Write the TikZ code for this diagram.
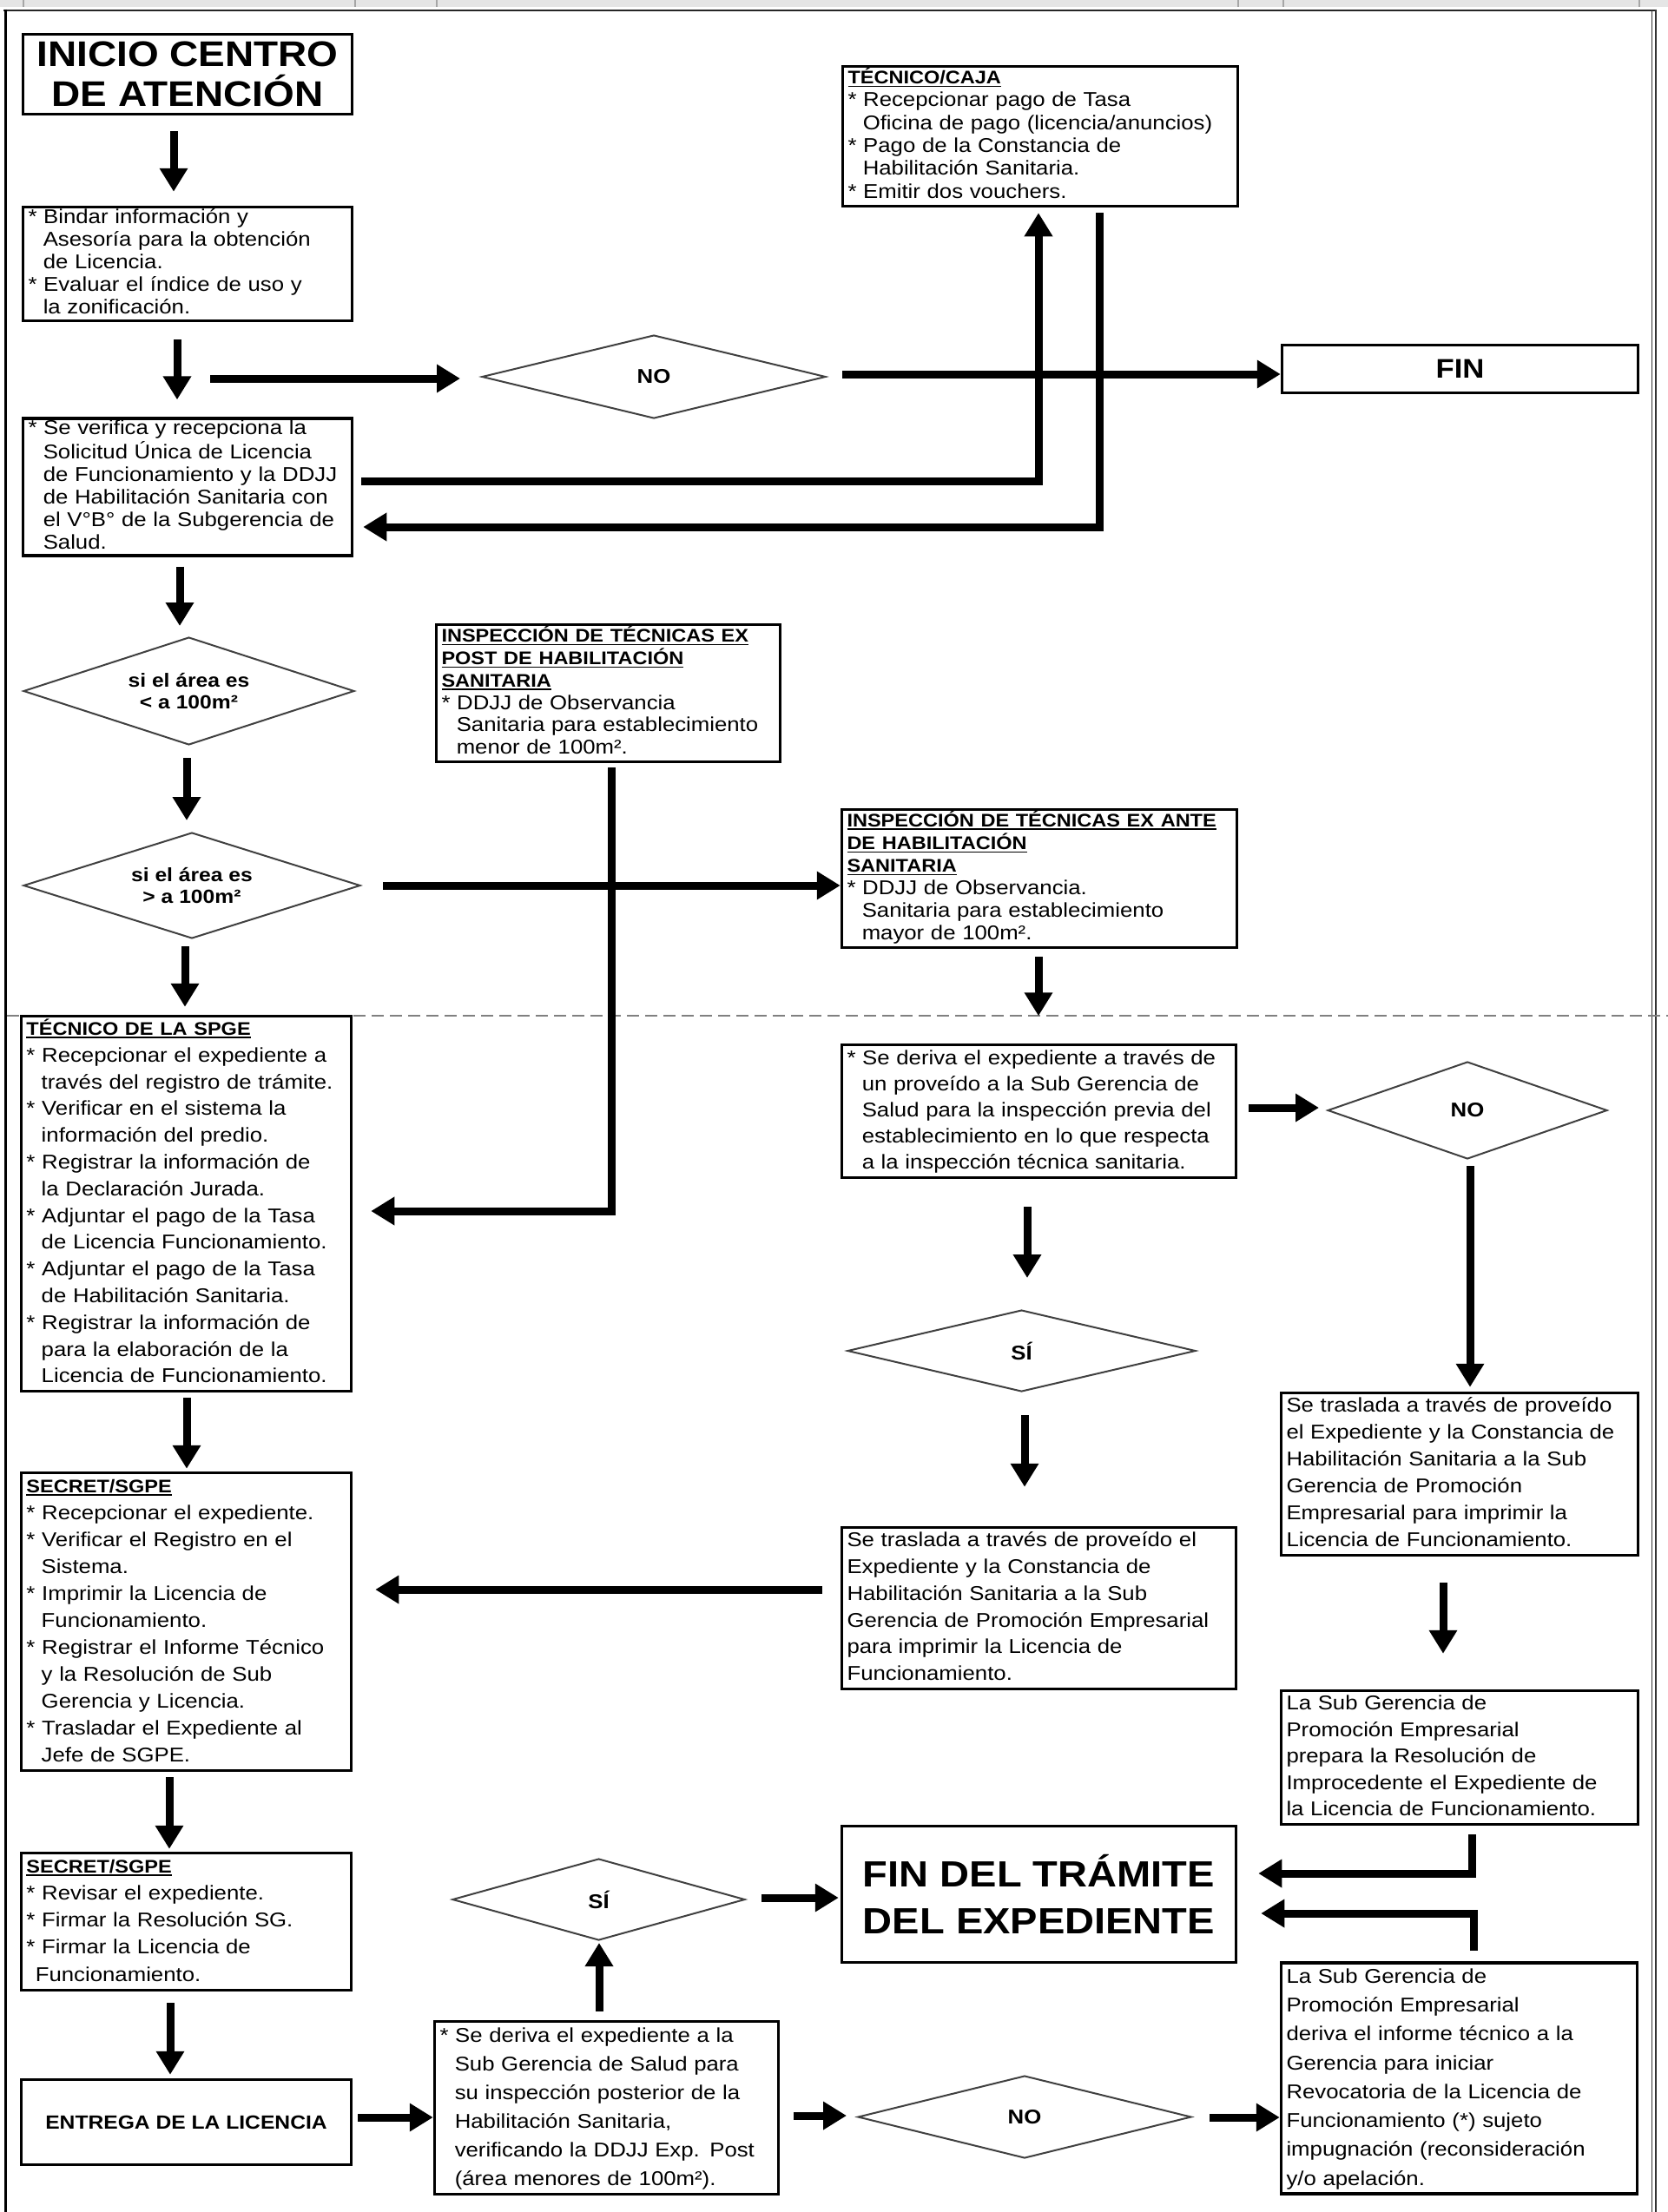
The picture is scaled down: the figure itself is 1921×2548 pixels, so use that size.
\documentclass[tikz,border=0pt]{standalone}
\usepackage{fontspec}
\setmainfont{Liberation Sans}[FakeStretch=1.12]
\usetikzlibrary{shapes.geometric,arrows.meta,calc}
\setlength{\parindent}{0pt}
\newsavebox\ulbox
\newcommand\myul[1]{\sbox\ulbox{#1}\rlap{\rule[-3.5pt]{\wd\ulbox}{1.6pt}}\usebox\ulbox}
\newcommand\mytitle[1]{\myul{\bfseries\fontsize{21}{26}\selectfont #1}}
\newcommand\myind{\hspace*{0.75em}}
\begin{document}
\begin{tikzpicture}[x=1pt,y=-1pt,
  box/.style={draw=black, line width=3.5pt, fill=white, inner xsep=6pt, inner ysep=0pt, align=left},
  dec/.style={diamond, shape aspect=3, draw=black!75, line width=2pt, fill=white, inner sep=0pt, align=center, font=\bfseries\fontsize{22}{25}\selectfont},
  arr/.style={line width=9pt, -{Triangle[length=27pt,width=31pt]}}
]
\useasboundingbox (0,0) rectangle (1921,2548);
% frame
\fill[black!10] (0,0) rectangle (1921,8);
\foreach \t in {27,409,503,1426,1478,1888} \draw[black!35,line width=1.5pt] (\t,0) -- (\t,8);
\draw[black!85,line width=2pt] (4,12) -- (1908,12);
\draw[line width=3pt] (6.5,11) -- (6.5,2548);
\draw[black!80,line width=1.4pt] (1902.5,11) -- (1902.5,2548);
\draw[black!80,line width=1.4pt] (1907,11) -- (1907,2548);
\draw[black!50,line width=2pt,dash pattern=on 14pt off 7pt] (8,1170) -- (1921,1170);

% left column
\node[box, minimum width=379pt, minimum height=92pt, align=center, font=\bfseries\fontsize{41}{46}\selectfont] (inicio) at (216,85.5) {INICIO CENTRO\\DE ATENCIÓN};

\node[box, minimum width=379pt, minimum height=131pt, text width=367pt, font=\fontsize{23}{26}\selectfont] (b2) at (216,304) {\begin{tabular}{@{}l@{}}{*} Bindar información y\\ \myind Asesoría para la obtención\\ \myind de Licencia.\\ {*} Evaluar el índice de uso y\\ \myind la zonificación.\end{tabular}};

\node[box, minimum width=379pt, minimum height=157pt, text width=367pt, font=\fontsize{23}{26}\selectfont] (b3) at (216,561) {\begin{tabular}{@{}l@{}}{*} Se verifica y recepciona la\\ \myind Solicitud Única de Licencia\\ \myind de Funcionamiento y la DDJJ\\ \myind de Habilitación Sanitaria con\\ \myind el V°B° de la Subgerencia de\\ \myind Salud.\end{tabular}};

\node[dec, minimum width=381pt, minimum height=124pt] (d2) at (217.5,796) {si el área es\\< a 100m²};
\node[dec, minimum width=388pt, minimum height=122pt] (d3) at (221,1020) {si el área es\\> a 100m²};

\node[box, minimum width=380pt, minimum height=432pt, text width=368pt, font=\fontsize{23}{30.8}\selectfont] (spge) at (214.5,1386.5) {\begin{tabular}{@{}l@{}}\mytitle{TÉCNICO DE LA SPGE}\\ {*} Recepcionar el expediente a\\ \myind través del registro de trámite.\\ {*} Verificar en el sistema la\\ \myind información del predio.\\ {*} Registrar la información de\\ \myind la Declaración Jurada.\\ {*} Adjuntar el pago de la Tasa\\ \myind de Licencia Funcionamiento.\\ {*} Adjuntar el pago de la Tasa\\ \myind de Habilitación Sanitaria.\\ {*} Registrar la información de\\ \myind para la elaboración de la\\ \myind Licencia de Funcionamiento.\end{tabular}};

\node[box, minimum width=380pt, minimum height=343pt, text width=368pt, font=\fontsize{23}{31}\selectfont] (secret1) at (214.5,1868) {\begin{tabular}{@{}l@{}}\mytitle{SECRET/SGPE}\\ {*} Recepcionar el expediente.\\ {*} Verificar el Registro en el\\ \myind Sistema.\\ {*} Imprimir la Licencia de\\ \myind Funcionamiento.\\ {*} Registrar el Informe Técnico\\ \myind y la Resolución de Sub\\ \myind Gerencia y Licencia.\\ {*} Trasladar el Expediente al\\ \myind Jefe de SGPE.\end{tabular}};

\node[box, minimum width=380pt, minimum height=158pt, text width=368pt, font=\fontsize{23}{31.2}\selectfont] (secret2) at (214.5,2213.5) {\begin{tabular}{@{}l@{}}\mytitle{SECRET/SGPE}\\ {*} Revisar el expediente.\\ {*} Firmar la Resolución SG.\\ {*} Firmar la Licencia de\\ \hspace*{0.45em}Funcionamiento.\end{tabular}};

\node[box, minimum width=380pt, minimum height=98pt, align=center, font=\bfseries\fontsize{22}{26}\selectfont] (entrega) at (214.5,2444.5) {ENTREGA DE LA LICENCIA};

% middle column
\node[dec, minimum width=396pt, minimum height=96pt, font=\bfseries\fontsize{23}{25}\selectfont] (d1) at (753,434) {NO};

\node[box, minimum width=396pt, minimum height=158pt, text width=384pt, font=\fontsize{23}{25.6}\selectfont] (expost) at (700.5,798.5) {\begin{tabular}{@{}l@{}}\mytitle{INSPECCIÓN DE TÉCNICAS EX}\\ \mytitle{POST DE HABILITACIÓN}\\ \mytitle{SANITARIA}\\ {*} DDJJ de Observancia\\ \myind Sanitaria para establecimiento\\ \myind menor de 100m².\end{tabular}};

\node[dec, minimum width=337pt, minimum height=94pt, font=\bfseries\fontsize{23}{25}\selectfont] (d6) at (689.5,2188) {SÍ};

\node[box, minimum width=396pt, minimum height=199pt, text width=384pt, font=\fontsize{23}{33}\selectfont] (posterior) at (698.5,2428) {\begin{tabular}{@{}l@{}}{*} Se deriva el expediente a la\\ \myind Sub Gerencia de Salud para\\ \myind su inspección posterior de la\\ \myind Habilitación Sanitaria,\\ \myind verificando la DDJJ Exp. Post\\ \myind (área menores de 100m²).\end{tabular}};

% right-middle column
\node[box, minimum width=455pt, minimum height=161pt, text width=443pt, font=\fontsize{23}{26.3}\selectfont] (caja) at (1198,157) {\begin{tabular}{@{}l@{}}\mytitle{TÉCNICO/CAJA}\\ {*} Recepcionar pago de Tasa\\ \myind Oficina de pago (licencia/anuncios)\\ {*} Pago de la Constancia de\\ \myind Habilitación Sanitaria.\\ {*} Emitir dos vouchers.\end{tabular}};

\node[box, minimum width=455pt, minimum height=159pt, text width=443pt, font=\fontsize{23}{26}\selectfont] (exante) at (1197,1012) {\begin{tabular}{@{}l@{}}\mytitle{INSPECCIÓN DE TÉCNICAS EX ANTE}\\ \mytitle{DE HABILITACIÓN}\\ \mytitle{SANITARIA}\\ {*} DDJJ de Observancia.\\ \myind Sanitaria para establecimiento\\ \myind mayor de 100m².\end{tabular}};

\node[box, minimum width=454pt, minimum height=153pt, text width=442pt, font=\fontsize{23}{30}\selectfont] (mid) at (1196.5,1280) {\begin{tabular}{@{}l@{}}{*} Se deriva el expediente a través de\\ \myind un proveído a la Sub Gerencia de\\ \myind Salud para la inspección previa del\\ \myind establecimiento en lo que respecta\\ \myind a la inspección técnica sanitaria.\end{tabular}};

\node[dec, minimum width=401pt, minimum height=94pt, font=\bfseries\fontsize{23}{25}\selectfont] (d5) at (1176.5,1556) {SÍ};

\node[box, minimum width=454pt, minimum height=186pt, text width=442pt, font=\fontsize{23}{30.8}\selectfont] (trasL) at (1196.5,1852.5) {\begin{tabular}{@{}l@{}}Se traslada a través de proveído el\\ Expediente y la Constancia de\\ Habilitación Sanitaria a la Sub\\ Gerencia de Promoción Empresarial\\ para imprimir la Licencia de\\ Funcionamiento.\end{tabular}};

\node[box, minimum width=454pt, minimum height=157pt, align=center, font=\bfseries\fontsize{42}{54}\selectfont] (findel) at (1196.5,2182) {FIN DEL TRÁMITE\\DEL EXPEDIENTE};

\node[dec, minimum width=384pt, minimum height=95pt, font=\bfseries\fontsize{23}{25}\selectfont] (d7) at (1180,2438.5) {NO};

% right column
\node[box, minimum width=410pt, minimum height=55pt, align=center, font=\bfseries\fontsize{31}{31}\selectfont] (fin) at (1681.5,425) {FIN};

\node[dec, minimum width=322pt, minimum height=112pt, font=\bfseries\fontsize{23}{25}\selectfont] (d4) at (1690,1279) {NO};

\node[box, minimum width=411pt, minimum height=187pt, text width=399pt, font=\fontsize{23}{31}\selectfont] (trasR) at (1681,1698) {\begin{tabular}{@{}l@{}}Se traslada a través de proveído\\ el Expediente y la Constancia de\\ Habilitación Sanitaria a la Sub\\ Gerencia de Promoción\\ Empresarial para imprimir la\\ Licencia de Funcionamiento.\end{tabular}};

\node[box, minimum width=411pt, minimum height=154pt, text width=399pt, font=\fontsize{23}{30.5}\selectfont] (prepara) at (1681,2024.5) {\begin{tabular}{@{}l@{}}La Sub Gerencia de\\ Promoción Empresarial\\ prepara la Resolución de\\ Improcedente el Expediente de\\ la Licencia de Funcionamiento.\end{tabular}};

\node[box, minimum width=410pt, minimum height=265pt, text width=398pt, font=\fontsize{23}{33.3}\selectfont] (revoca) at (1680.5,2394) {\begin{tabular}{@{}l@{}}La Sub Gerencia de\\ Promoción Empresarial\\ deriva el informe técnico a la\\ Gerencia para iniciar\\ Revocatoria de la Licencia de\\ Funcionamiento (*) sujeto\\ impugnación (reconsideración\\ y/o apelación.\end{tabular}};

% connectors
\draw[arr] ($(inicio.south)+(-16,18)$) -- ($(b2.north)+(-16,-16)$);
\draw[arr] ($(b2.south)+(-12,20)$) -- ($(b3.north)+(-12,-20)$);
\coordinate (a3s) at (242,436);
\draw[arr] (a3s) -- ($(d1.west)+(-24,2)$);
\draw[arr] ($(d1.east)+(18,-3)$) -- ($(fin.west)+(0,6)$);
\draw[arr] ($(b3.east)+(9,-7)$) -| ($(caja.south)+(-2,6)$);
\draw[arr] ($(caja.south)+(68,6)$) |- ($(b3.east)+(11,46)$);
\draw[arr] ($(b3.south)+(-9,11)$) -- ($(d2.north)+(-10.5,-12)$);
\draw[arr] ($(d2.south)+(-2.5,14)$) -- ($(d3.north)+(-6,-13)$);
\draw[arr] ($(d3.east)+(25,0)$) -- ($(exante.west)+(0,8)$);
\draw[arr] ($(expost.south)+(3.5,5)$) |- ($(spge.east)+(21,8.5)$);
\draw[arr] ($(exante.south)+(-1,9)$) -- ($(exante.south)+(-1,77)$);
\draw[arr] ($(d3.south)+(-8,8)$) -- ($(spge.north)+(-1.5,-9)$);
\draw[arr] ($(spge.south)+(0.5,6)$) -- ($(secret1.north)+(0.5,-3)$);
\draw[arr] ($(trasL.west)+(-21,-21.5)$) -- ($(secret1.east)+(26,-37)$);
\draw[arr] ($(secret1.south)+(-19.5,6)$) -- ($(secret2.north)+(-19.5,-3)$);
\draw[arr] ($(secret2.south)+(-18.5,13)$) -- ($(entrega.north)+(-18.5,-4)$);
\draw[arr] ($(entrega.east)+(6,-5.5)$) -- ($(posterior.west)+(0,11)$);
\draw[arr] ($(posterior.north)+(-8.5,-10)$) -- ($(d6.south)+(0.5,2)$);
\draw[arr] ($(d6.east)+(18,-2)$) -- ($(findel.west)+(-2,4)$);
\draw[arr] ($(posterior.east)+(16,9)$) -- ($(d7.west)+(-12,-1.5)$);
\draw[arr] ($(d7.east)+(20,0.5)$) -- ($(revoca.west)+(0,45)$);
\draw[arr] ($(prepara.south)+(14,10)$) |- ($(findel.east)+(24,-24)$);
\draw[arr] ($(revoca.north)+(17,-12)$) |- ($(findel.east)+(27,22)$);
\draw[arr] ($(mid.south)+(-13.5,32)$) -- ($(d5.north)+(6.5,-36)$);
\draw[arr] ($(mid.east)+(13,-4)$) -- ($(d4.west)+(-9,-3)$);
\draw[arr] ($(d4.south)+(3,7)$) -- ($(trasR.north)+(12,-5)$);
\draw[arr] ($(d5.south)+(3.5,26)$) -- ($(trasL.north)+(-16.5,-45)$);
\draw[arr] ($(trasR.south)+(-19,30)$) -- ($(prepara.north)+(-19,-41)$);
\end{tikzpicture}
\end{document}
